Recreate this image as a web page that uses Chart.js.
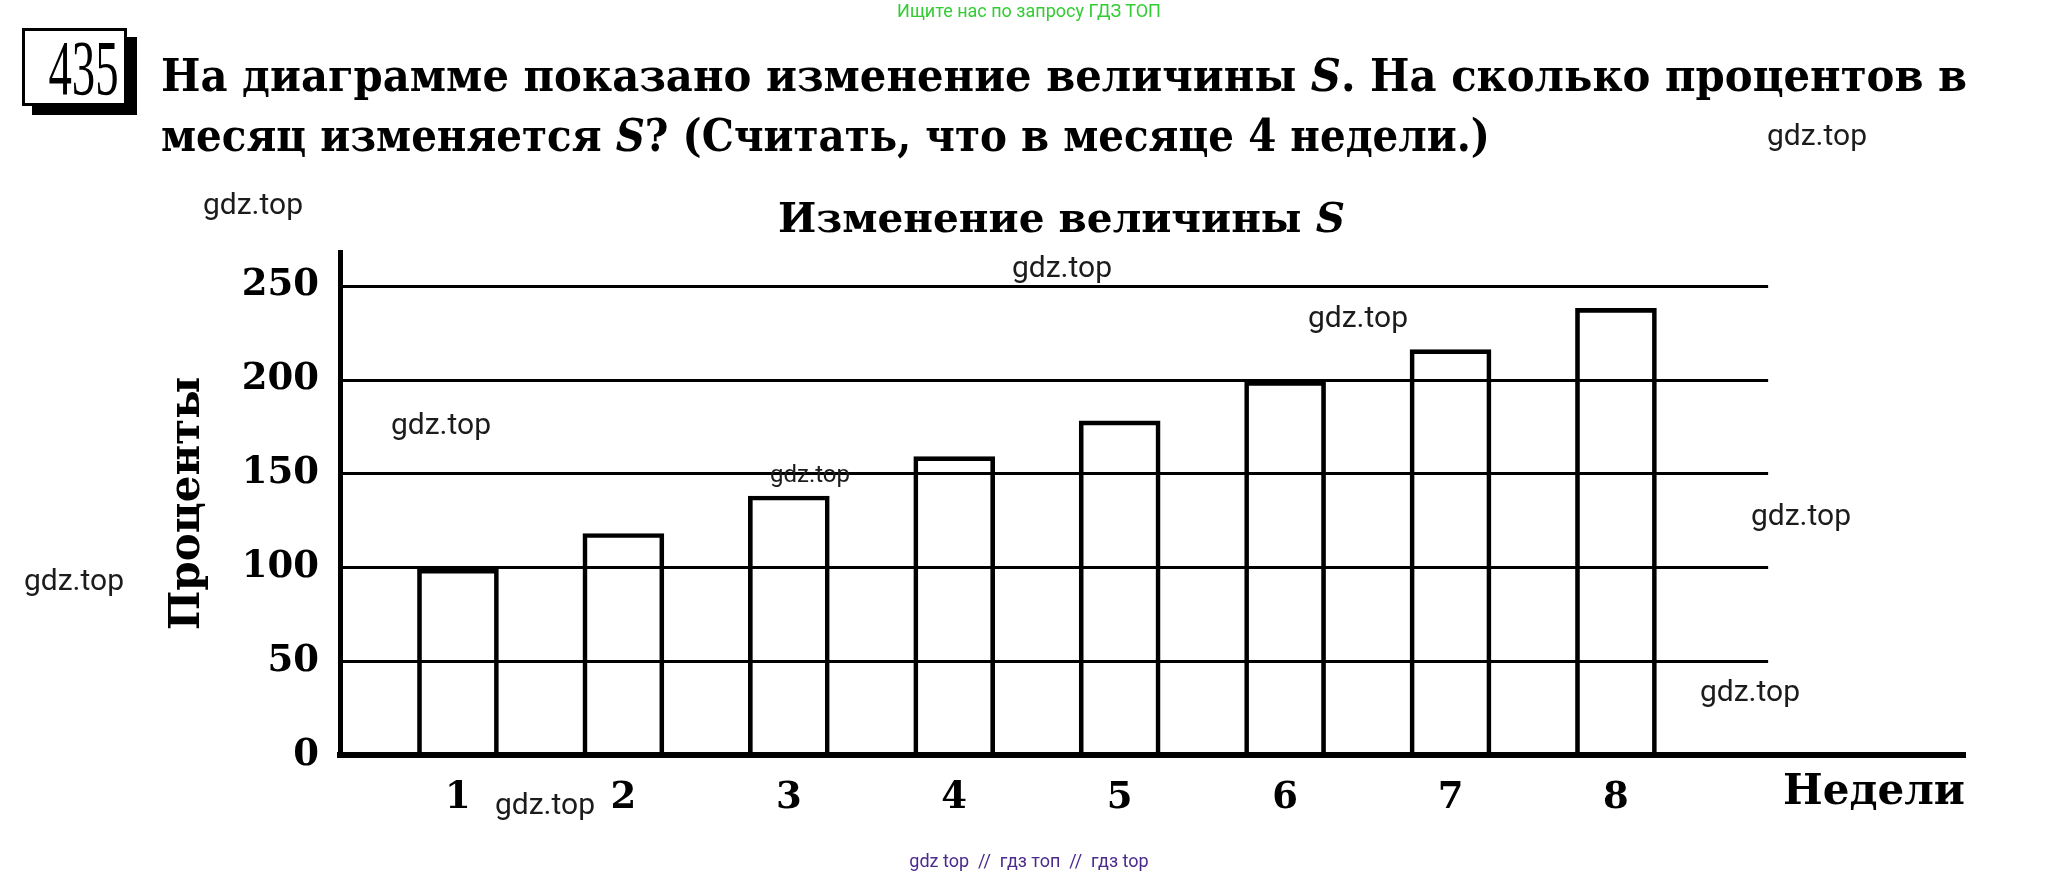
<!DOCTYPE html>
<html>
<head>
<meta charset="utf-8">
<script src="https://cdn.jsdelivr.net/npm/chart.js@4.4.1/dist/chart.umd.min.js"></script>
<style>
  html, body { margin: 0; padding: 0; background: #fff; }
  #page { position: relative; width: 2058px; height: 874px; overflow: hidden; }
  #chart { position: absolute; left: 0; top: 0; }
  .serif { font-family: "DejaVu Serif", serif; font-weight: bold; color: #000; white-space: nowrap; position: absolute; }
  .wm { position: absolute; font-family: Roboto, sans-serif; font-size: 30px; color: #1c1c1c; white-space: nowrap; transform: translate(-50%, -50%); }
  #num {
    position: absolute; left: 22px; top: 28px; width: 99px; height: 72px;
    border: 3px solid #000; box-shadow: 10px 9px 0 #000; background: #fff;
    font-family: "Liberation Serif", serif; font-size: 78px; line-height: 74px; text-align: center;
  }
  #num span { display: inline-block; transform: scaleX(0.6); transform-origin: center; }
</style>
</head>
<body>
<div id="page">
  <canvas id="chart" width="2058" height="874"></canvas>

  <div style="position:absolute;left:1029px;top:10px;transform:translate(-50%,-50%);font-family:Roboto,sans-serif;font-size:18px;color:#33cc33;white-space:nowrap;">Ищите нас по запросу ГДЗ ТОП</div>

  <div id="num"><span>435</span></div>

  <div class="serif fit" data-w="1806" style="left:161px;top:75px;font-size:44px;transform-origin:left center;">На диаграмме показано изменение величины <i>S</i>. На сколько процентов в</div>
  <div class="serif fit" data-w="1329" style="left:161px;top:135px;font-size:44px;transform-origin:left center;">месяц изменяется <i>S</i>? (Считать, что в месяце 4 недели.)</div>

  <div class="serif fit" data-w="567" style="left:778px;top:218px;font-size:41px;transform-origin:left center;">Изменение величины <i>S</i></div>

  <div class="wm" style="left:1817px;top:134px;">gdz.top</div>
  <div class="wm" style="left:253px;top:203px;">gdz.top</div>
  <div class="wm" style="left:1062px;top:266px;">gdz.top</div>
  <div class="wm" style="left:1358px;top:316px;">gdz.top</div>
  <div class="wm" style="left:441px;top:423px;">gdz.top</div>
  <div class="wm" style="left:810px;top:474px;font-size:24px;">gdz.top</div>
  <div class="wm" style="left:74px;top:579px;">gdz.top</div>
  <div class="wm" style="left:1801px;top:514px;">gdz.top</div>
  <div class="wm" style="left:1750px;top:690px;">gdz.top</div>
  <div class="wm" style="left:545px;top:803px;">gdz.top</div>

  <div style="position:absolute;left:1029px;top:860px;transform:translate(-50%,-50%);font-family:Roboto,sans-serif;font-size:18px;color:#4b2a8c;white-space:pre;">gdz top  //  гдз топ  //  гдз top</div>
</div>

<script>
// data
var weeks = [1, 2, 3, 4, 5, 6, 7, 8];
var percents = [99, 118, 138, 159, 178, 199, 216, 238];
var yTicks = [0, 50, 100, 150, 200, 250];

var xMin = 0.287;
var xMax = 10.11;
var gridEnd = 8.92;
var yMax = 268;

// stretch the overlay text lines to the widths measured on the picture
document.querySelectorAll('.fit').forEach(function (el) {
    var target = parseFloat(el.dataset.w);
    var w = el.getBoundingClientRect().width;
    el.style.transform = 'translateY(-50%) scaleX(' + (target / w) + ')';
});

// horizontal grid lines stop short of the end of the x axis
var gridPlugin = {
    id: 'partialGrid',
    beforeDatasetsDraw: function (chart) {
        var ctx = chart.ctx;
        var x = chart.scales.x;
        var y = chart.scales.y;
        var x0 = chart.chartArea.left;
        var x1 = x.getPixelForValue(gridEnd);
        ctx.save();
        ctx.strokeStyle = '#000';
        ctx.lineWidth = 3;
        yTicks.forEach(function (v) {
            if (v === 0) return;
            var py = Math.round(y.getPixelForValue(v)) + 0.5;
            ctx.beginPath();
            ctx.moveTo(x0, py);
            ctx.lineTo(x1, py);
            ctx.stroke();
        });
        ctx.restore();
    }
};

var serif = '"DejaVu Serif", serif';

new Chart(document.getElementById('chart').getContext('2d'), {
    type: 'bar',
    data: {
        datasets: [{
            data: weeks.map(function (w, i) { return { x: w, y: percents[i] }; }),
            backgroundColor: 'rgba(255,255,255,0)',
            borderColor: '#000',
            borderWidth: 4,
            barThickness: 81
        }]
    },
    options: {
        responsive: false,
        animation: false,
        layout: { padding: { top: 252, right: 93, left: 0, bottom: 0 } },
        plugins: {
            legend: { display: false },
            tooltip: { enabled: false }
        },
        scales: {
            x: {
                type: 'linear',
                offset: false,
                min: xMin,
                max: xMax,
                afterFit: function (scale) { scale.height = 119; },
                afterBuildTicks: function (scale) {
                    scale.ticks = weeks.map(function (v) { return { value: v }; });
                },
                grid: { display: false, drawTicks: false, offset: false },
                border: { display: true, color: '#000', width: 6 },
                ticks: {
                    color: '#000',
                    padding: 21,
                    autoSkip: false,
                    maxRotation: 0,
                    font: { family: serif, size: 37, weight: 'bold' }
                },
                title: {
                    display: true,
                    text: 'Недели',
                    align: 'end',
                    color: '#000',
                    padding: { top: 0, bottom: 56 },
                    font: { family: serif, size: 42, weight: 'bold' }
                }
            },
            y: {
                min: 0,
                max: yMax,
                afterFit: function (scale) { scale.width = 340; },
                afterBuildTicks: function (scale) {
                    scale.ticks = yTicks.map(function (v) { return { value: v }; });
                },
                grid: { display: false, drawTicks: false },
                border: { display: true, color: '#000', width: 5 },
                ticks: {
                    color: '#000',
                    padding: 21,
                    font: { family: serif, size: 37, weight: 'bold' }
                },
                title: {
                    display: true,
                    text: 'Проценты',
                    color: '#000',
                    padding: { top: 163, bottom: 0 },
                    font: { family: serif, size: 42, weight: 'bold' }
                }
            }
        }
    },
    plugins: [gridPlugin]
});
</script>
</body>
</html>
